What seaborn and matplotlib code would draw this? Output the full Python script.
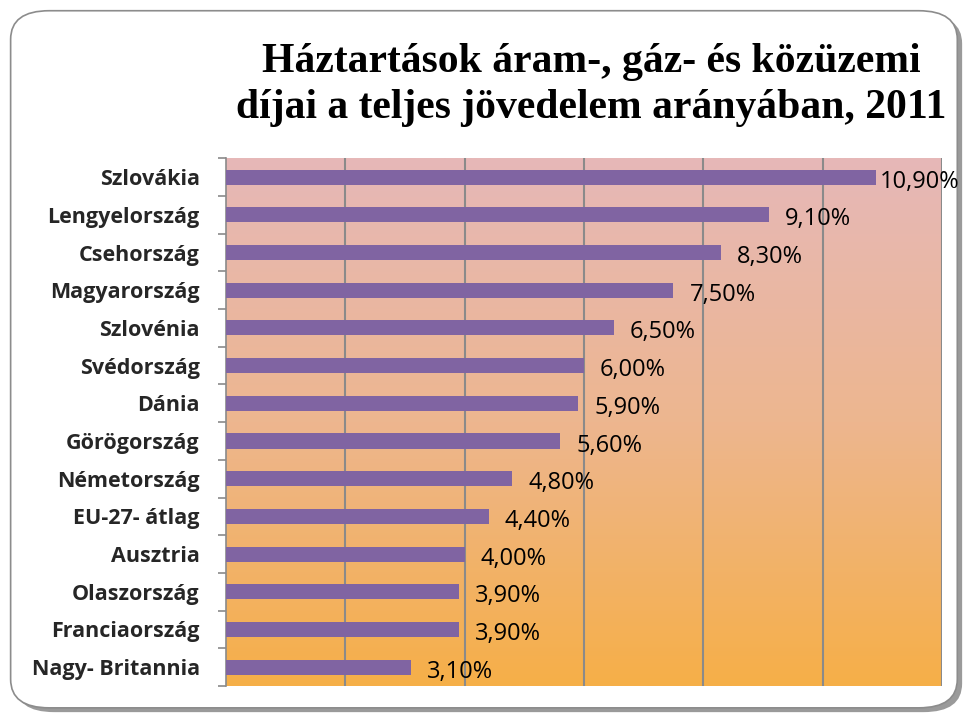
import numpy as np
import pandas as pd
import matplotlib.pyplot as plt
import seaborn as sns
from matplotlib.patches import FancyBboxPatch
from matplotlib.colors import LinearSegmentedColormap

countries = ['Szlovákia', 'Lengyelország', 'Csehország', 'Magyarország', 'Szlovénia',
             'Svédország', 'Dánia', 'Görögország', 'Németország', 'EU-27- átlag',
             'Ausztria', 'Olaszország', 'Franciaország', 'Nagy- Britannia']
values = [10.9, 9.1, 8.3, 7.5, 6.5, 6.0, 5.9, 5.6, 4.8, 4.4, 4.0, 3.9, 3.9, 3.1]

df = pd.DataFrame({'Country': countries, 'Value': values})

sns.set_style('white')
fig = plt.figure(figsize=(9.66, 7.15), dpi=100)

# rounded frame with shadow
shadow = FancyBboxPatch((0.016, 0.004), 0.98, 0.975, boxstyle='round,pad=0,rounding_size=0.04',
                        transform=fig.transFigure, facecolor='#9a9a9a', edgecolor='none', zorder=-3)
frame = FancyBboxPatch((0.011, 0.01), 0.98, 0.975, boxstyle='round,pad=0,rounding_size=0.04',
                       transform=fig.transFigure, facecolor='white', edgecolor='#8c8c8c', lw=1.2, zorder=-2)
fig.patches.extend([shadow, frame])

ax = fig.add_axes([0.234, 0.0406, 0.741, 0.738])
ax.patch.set_alpha(0)

# gradient background
cmap = LinearSegmentedColormap.from_list('bg', ['#E6B8B8', '#EDB68F', '#F6AF48'])
grad = np.linspace(0, 1, 256).reshape(-1, 1)
ax.imshow(grad, aspect='auto', cmap=cmap, extent=(0, 12, 13.5, -0.5), zorder=0)

sns.barplot(data=df, x='Value', y='Country', orient='h', color='#8064A2', saturation=1,
            width=0.4, linewidth=0, ax=ax, zorder=3)

ax.set_xlim(0, 12)
ax.set_ylim(13.5, -0.5)
for g in np.arange(2, 13, 2):
    ax.axvline(g, color='#8a8a8a', lw=1.5, zorder=1)

# value labels (the longest one is pulled in so it stays inside the frame)
for i, v in enumerate(values):
    ax.text(min(v + 0.27, 10.96), i + 0.12, f'{v:.2f}%'.replace('.', ','), va='center', ha='left',
            fontsize=17, family='Open Sans', color='black', zorder=4)

ax.set_xticks([])
ax.set_xlabel('')
ax.set_ylabel('')
ax.set_yticks(range(len(countries)))
ax.set_yticklabels(countries, fontsize=15.5, fontweight='bold', family='Open Sans')
ax.set_yticks(np.arange(-0.5, 14, 1), minor=True)
ax.tick_params(axis='y', which='major', length=0, pad=19)
ax.tick_params(axis='y', which='minor', length=6, color='#8a8a8a', width=1.2, left=True)
for s in ['top', 'bottom', 'right']:
    ax.spines[s].set_visible(False)
ax.spines['left'].set_color('#8a8a8a')
ax.spines['left'].set_linewidth(1.2)

fig.text(0.612, 0.881, 'Háztartások áram-, gáz- és közüzemi\ndíjai a teljes jövedelem arányában, 2011',
         ha='center', va='center', fontsize=30, fontweight='bold', family='Liberation Serif',
         color='black', linespacing=1.25)

fig.savefig('out.png', dpi=100)
